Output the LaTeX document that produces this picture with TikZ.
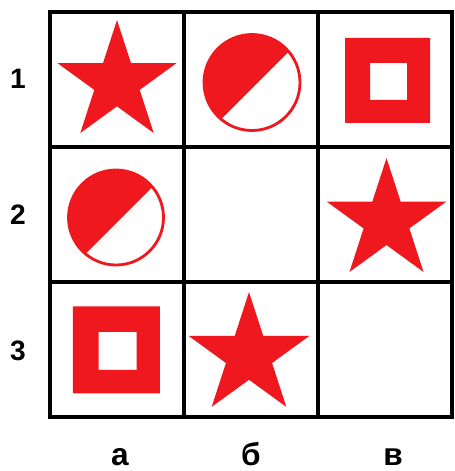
\documentclass[tikz,border=0pt]{standalone}
\usepackage{fontspec}
\setmainfont{Liberation Sans}
\usepackage{tikz}
\usetikzlibrary{positioning}
\usepackage{xcolor}
\definecolor{shapered}{RGB}{238,24,30}

\tikzset{
  gridline/.style={line width=2pt, black},
  rowlabel/.style={font=\fontsize{16}{18}\selectfont\bfseries},
  collabel/.style={font=\fontsize{18}{20}\selectfont\bfseries, anchor=base, inner sep=1pt},
}

% star: centre x, centre y, outer radius
\newcommand{\redstar}[3]{%
  \fill[shapered, shift={(#1,#2)}] (90:#3)
    \foreach \k in {1,...,9}{ -- ({90+36*\k}:{(mod(\k,2)==1) ? 0.382*#3 : #3}) } -- cycle;}
% half filled disc: centre x, centre y, radius
\newcommand{\halfdisc}[3]{%
  \fill[shapered] (#1,#2) ++(40:#3) arc[start angle=40, end angle=230, radius=#3] -- cycle;
  \draw[shapered, line width=1.6pt] (#1,#2) circle[radius=#3];}
% square with a hole: centre x, centre y, outer side, inner side
\newcommand{\holedsquare}[4]{%
  \fill[shapered, even odd rule, shift={(#1,#2)}]
    (-#3/2,-#3/2) rectangle (#3/2,#3/2) (-#4/2+1,-#4/2-1) rectangle (#4/2+1,#4/2-1);}

\begin{document}
\begin{tikzpicture}[x=0.02cm, y=0.02cm]
  \useasboundingbox (0,0) rectangle (455,471);
  % grid
  \draw[gridline] (50,54) rectangle (452,459);
  \foreach \gx in {184,318} \draw[gridline] (\gx,54) -- (\gx,459);
  \foreach \gy in {189,324} \draw[gridline] (50,\gy) -- (452,\gy);
  % row 1
  \redstar{117}{388.5}{62.5}
  \halfdisc{252}{388.5}{48}
  \holedsquare{387.5}{390.5}{85}{37}
  % row 2
  \halfdisc{116}{253.5}{47.5}
  \redstar{386.5}{250}{63}
  % row 3
  \holedsquare{116.5}{121}{87}{38}
  \redstar{249}{115.5}{63.5}
  % labels
  \node[rowlabel] (r1) at (18,392) {1};
  \node[rowlabel] (r2) at (18,256) {2};
  \node[rowlabel] (r3) at (18,120) {3};
  \node[collabel] (ca) at (120,6) {а};
  \node[collabel] (cb) at (251,6) {б};
  \node[collabel] (cv) at (393,6) {в};
\end{tikzpicture}
\end{document}
